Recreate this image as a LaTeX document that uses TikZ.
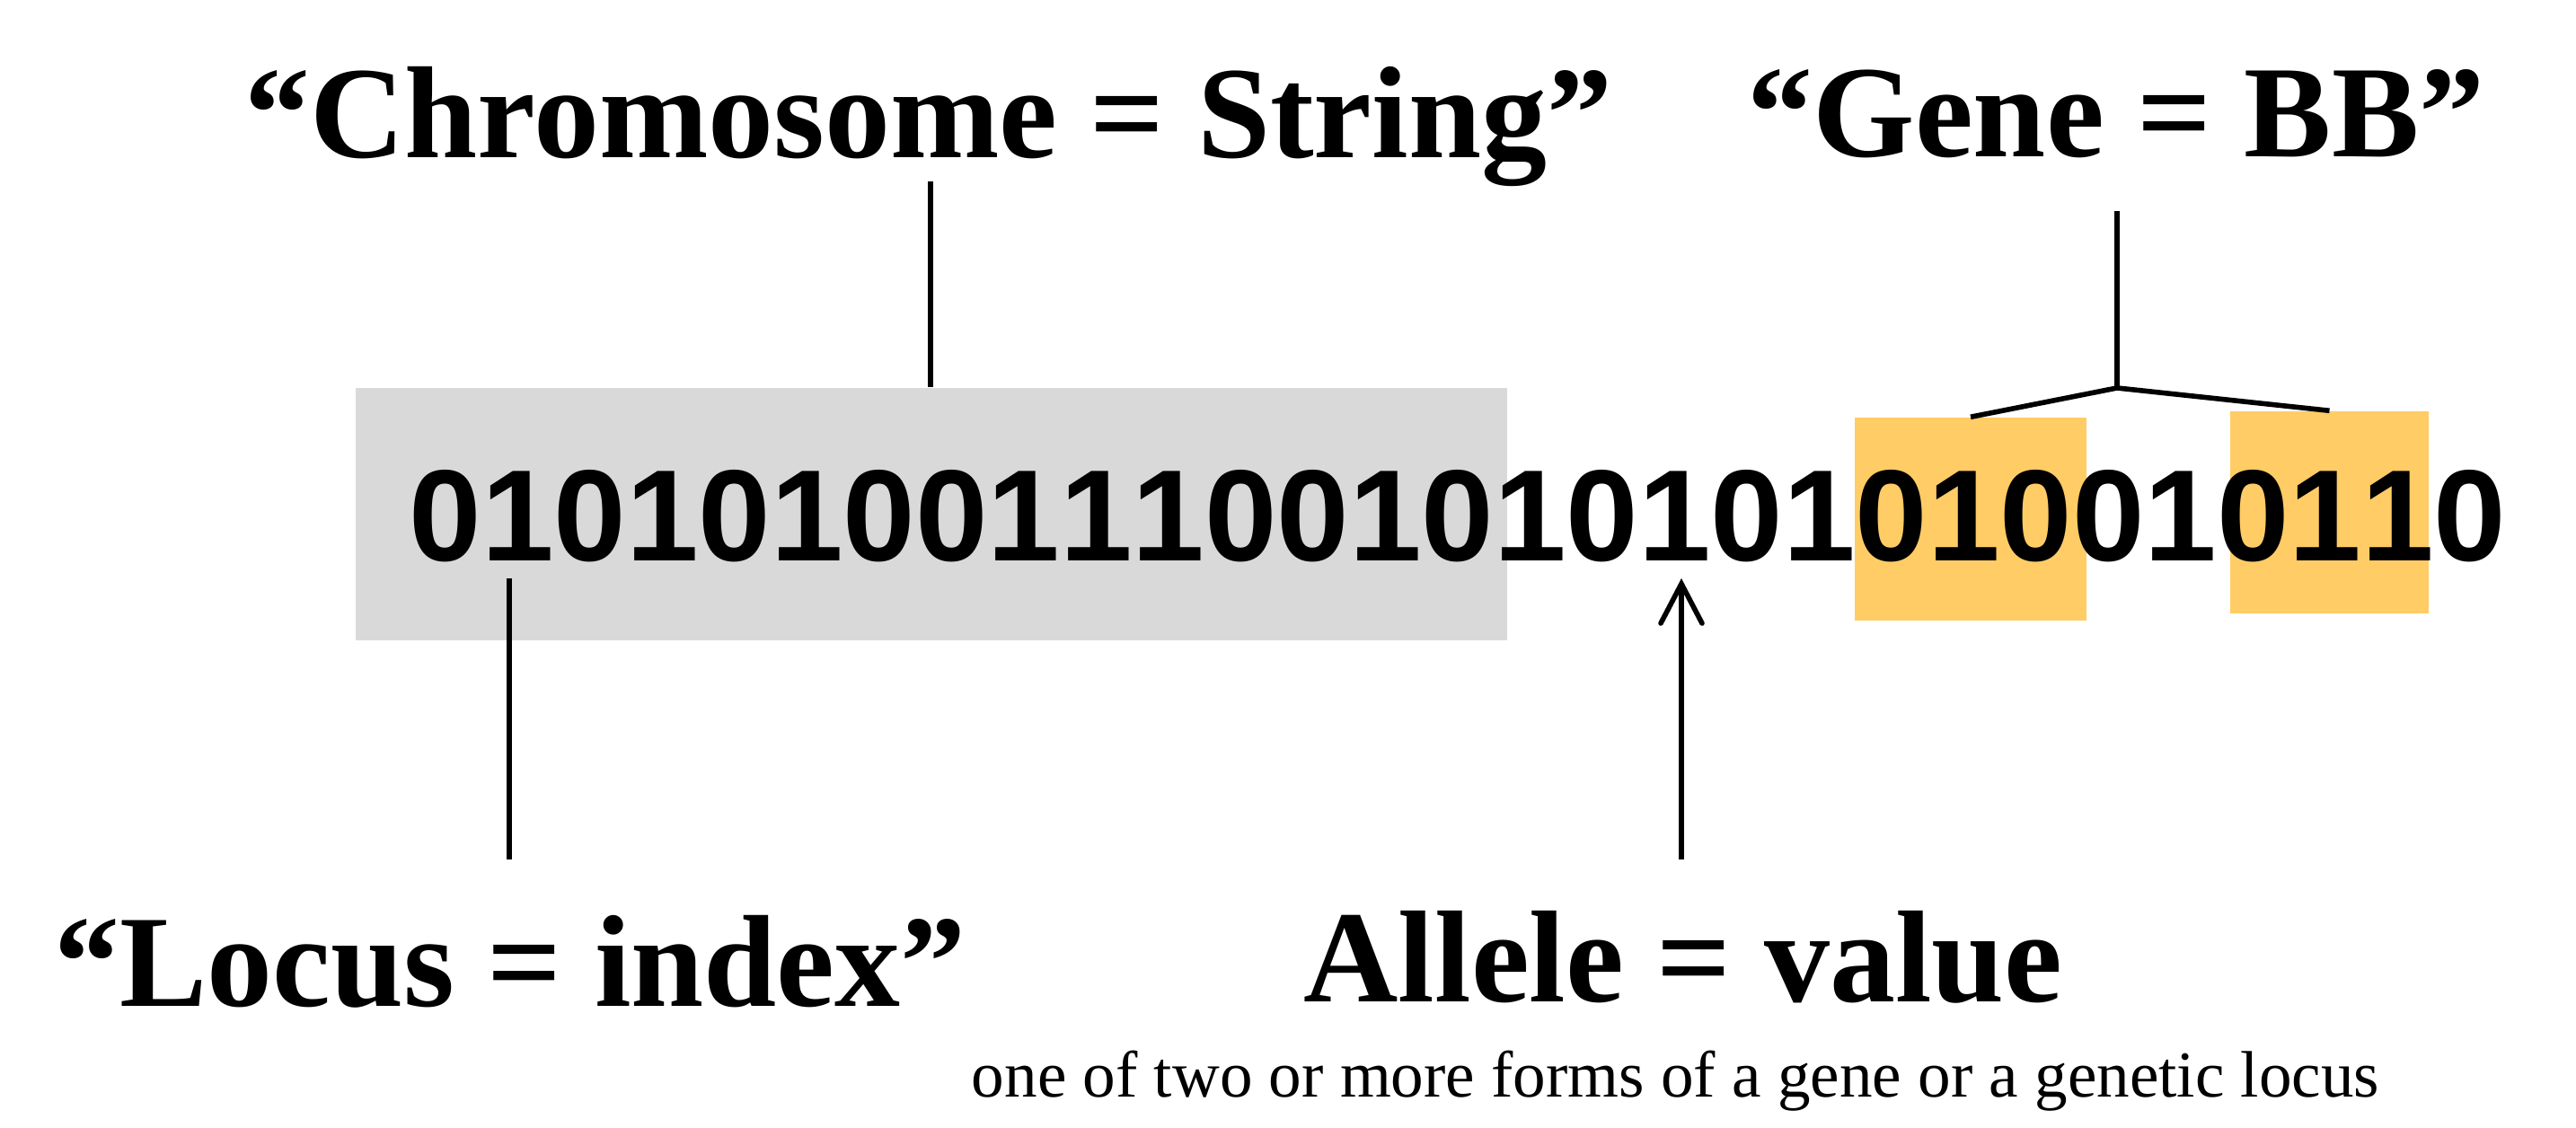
\documentclass[tikz,border=0pt]{standalone}
\usepackage{fontspec}
\setmainfont{Liberation Serif}
\newfontfamily\bitfont{Liberation Sans}
\usetikzlibrary{arrows.meta}
\definecolor{chromgray}{HTML}{D9D9D9}
\definecolor{geneorange}{HTML}{FFCC66}
\tikzset{
    title/.style={font=\fontsize{41.5}{48}\selectfont\bfseries, inner sep=0pt, anchor=base},
    note/.style={font=\fontsize{20.8}{24}\selectfont, inner sep=0pt, anchor=base},
    bit/.style={font=\bitfont\fontsize{41.2}{48}\selectfont\bfseries, inner sep=0pt, anchor=base west},
    band/.style={inner sep=0pt, draw=none},
    link/.style={line width=1.6pt},
}
\begin{document}
\begin{tikzpicture}
    \useasboundingbox (0,0) rectangle (28.68,12.56);

    \node[band, fill=chromgray, minimum width=12.82cm, minimum height=2.81cm] (chrom) at (10.37,6.835) {};
    \node[band, fill=geneorange, minimum width=2.58cm, minimum height=2.26cm] (gene1) at (21.94,6.78) {};
    \node[band, fill=geneorange, minimum width=2.21cm, minimum height=2.25cm] (gene2) at (25.935,6.855) {};

    \foreach \d [count=\i] in {0,1,0,1,0,1,0,0,1,1,1,0,0,1,0,1,0,1,0,1,0,1,0,0,1,0,1,1,0}
        \node[bit] (b\i) at ({4.55+0.805*(\i-1)},6.31) {\d};

    \node[title] (chromtitle) at (10.34,10.80) {“Chromosome = String”};
    \node[title] (genetitle) at (23.56,10.81) {“Gene = BB”};
    \node[title] (locustitle) at (5.68,1.35) {“Locus = index”};
    \node[title] (alleletitle) at (18.74,1.40) {Allele = value};
    \node[note] (allelenote) at (18.655,0.34) {one of two or more forms of a gene or a genetic locus};

    \coordinate (chromtop) at (10.36,10.54);
    \coordinate (genetop) at (23.57,10.21);
    \coordinate (fork) at (23.57,8.24);
    \coordinate (locustop) at (5.67,6.12);
    \coordinate (locusfoot) at (5.67,2.99);
    \coordinate (alleletip) at (18.72,6.12);
    \coordinate (allelefoot) at (18.72,2.99);

    \draw[link] (chromtop) -- (chromtop |- chrom.north);
    \draw[link] (genetop) -- (fork);
    \draw[link] (gene1.north) -- (fork) -- (gene2.north);
    \draw[link] (locustop) -- (locusfoot);
    \draw[link, -{Straight Barb[length=4.4mm, width=4.6mm, line cap=round]}] (allelefoot) -- (alleletip);
\end{tikzpicture}
\end{document}
